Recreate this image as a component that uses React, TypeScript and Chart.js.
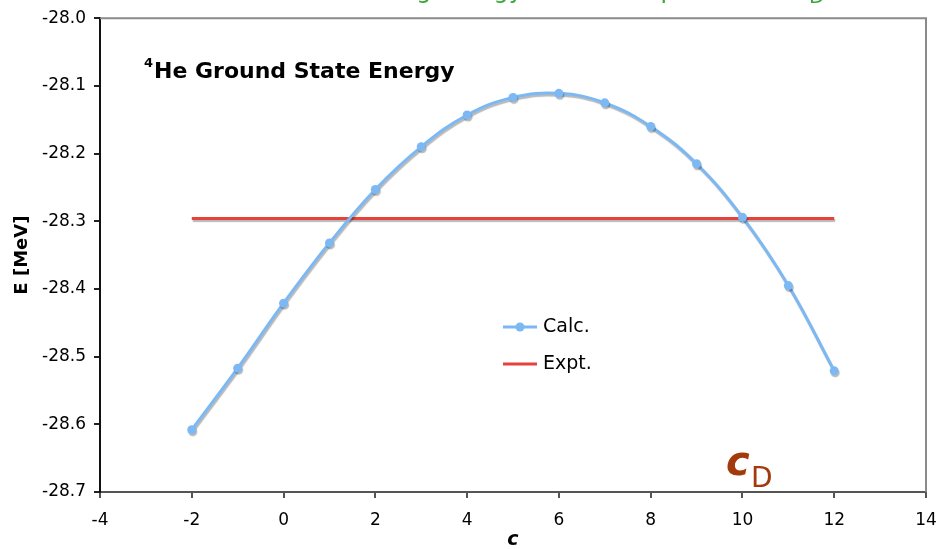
import React, { useEffect, useRef } from "react";
import { Chart, registerables } from "chart.js";

Chart.register(...registerables);

const cD = [-2, -1, 0, 1, 2, 3, 4, 5, 6, 7, 8, 9, 10, 11, 12];
const calcE = [-28.608, -28.517, -28.421, -28.332, -28.253, -28.19, -28.143, -28.117, -28.111, -28.125, -28.16, -28.215, -28.294, -28.395, -28.521];
const exptX = [-2, 12];
const exptE = [-28.296, -28.296];
const xTicks = { min: -4, max: 14, step: 2 };
const yTicks = { min: -28.7, max: -28.0, step: 0.1 };
const seriesNames = ["Calc.", "Expt."];

const FONT = "'DejaVu Sans', Verdana, sans-serif";
const CALC_COLOR = "#7cb9f4";
const EXPT_COLOR = "#e5423b";

const shadowPlugin = {
  id: "shadowPlugin",
  beforeDatasetDraw(chart: any) {
    const ctx = chart.ctx;
    ctx.save();
    ctx.shadowColor = "rgba(0,0,0,0.28)";
    ctx.shadowOffsetX = 1;
    ctx.shadowOffsetY = 2;
    ctx.shadowBlur = 1;
  },
  afterDatasetDraw(chart: any) {
    chart.ctx.restore();
  },
};

const decorPlugin = {
  id: "decorPlugin",
  afterDraw(chart: any) {
    const ctx = chart.ctx;
    const a = chart.chartArea;
    ctx.save();
    // top & right frame
    ctx.strokeStyle = "#8a8a8a";
    ctx.lineWidth = 2;
    ctx.beginPath();
    ctx.moveTo(a.left, a.top);
    ctx.lineTo(a.right, a.top);
    ctx.lineTo(a.right, a.bottom);
    ctx.stroke();

    // cut-off green title at top
    ctx.fillStyle = "#3aa83a";
    ctx.textBaseline = "alphabetic";
    ctx.textAlign = "left";
    ctx.font = `24px ${FONT}`;
    const main = "Binding Energy vs. the 3N parameter c";
    const w = ctx.measureText(main).width;
    const sx = 808 - w;
    ctx.fillText(main, sx, -2);
    ctx.font = `20px ${FONT}`;
    ctx.fillText("D", sx + w + 1, 3);

    // inner title
    ctx.fillStyle = "#000";
    ctx.font = `bold 13px ${FONT}`;
    ctx.fillText("4", 144, 67);
    ctx.font = `bold 22px ${FONT}`;
    ctx.fillText("He Ground State Energy", 154, 78);

    // legend
    ctx.lineWidth = 3;
    ctx.strokeStyle = CALC_COLOR;
    ctx.beginPath();
    ctx.moveTo(503, 327);
    ctx.lineTo(537, 327);
    ctx.stroke();
    ctx.fillStyle = CALC_COLOR;
    ctx.beginPath();
    ctx.arc(520, 327, 4.5, 0, Math.PI * 2);
    ctx.fill();
    ctx.strokeStyle = EXPT_COLOR;
    ctx.beginPath();
    ctx.moveTo(503, 364);
    ctx.lineTo(537, 364);
    ctx.stroke();
    ctx.fillStyle = "#000";
    ctx.font = `19px ${FONT}`;
    ctx.textBaseline = "middle";
    ctx.fillText(seriesNames[0], 543, 327);
    ctx.fillText(seriesNames[1], 543, 364);

    // c_D label
    ctx.fillStyle = "#a33a0c";
    ctx.textBaseline = "alphabetic";
    ctx.font = `italic bold 40px ${FONT}`;
    ctx.fillText("c", 726, 475);
    ctx.font = `28px ${FONT}`;
    ctx.fillText("D", 751, 487);
    ctx.restore();
  },
};

export default function App() {
  const ref = useRef<HTMLCanvasElement>(null);
  useEffect(() => {
    if (!ref.current) return;
    Chart.defaults.font.family = FONT;
    const chart = new Chart(ref.current, {
      type: "line",
      data: {
        datasets: [
          {
            label: seriesNames[0],
            data: cD.map((x, i) => ({ x, y: calcE[i] })),
            borderColor: CALC_COLOR,
            backgroundColor: CALC_COLOR,
            borderWidth: 3,
            pointRadius: 4.5,
            pointBorderWidth: 0,
            tension: 0.4,
            order: 0,
          },
          {
            label: seriesNames[1],
            data: exptX.map((x, i) => ({ x, y: exptE[i] })),
            borderColor: EXPT_COLOR,
            backgroundColor: EXPT_COLOR,
            borderWidth: 3,
            pointRadius: 0,
            order: 1,
          },
        ],
      },
      options: {
        responsive: false,
        animation: false,
        layout: { padding: { top: 15, right: 25, left: 0, bottom: 0 } },
        plugins: { legend: { display: false }, tooltip: { enabled: false } },
        scales: {
          x: {
            type: "linear",
            min: xTicks.min,
            max: xTicks.max,
            afterFit: (s: any) => {
              s.height = 57;
            },
            ticks: { stepSize: xTicks.step, color: "#000", font: { size: 17 }, padding: 12 },
            grid: { drawOnChartArea: false, tickLength: 6, color: "#555", lineWidth: 2 },
            border: { color: "#555", width: 2 },
            title: {
              display: true,
              text: "c",
              color: "#000",
              font: { size: 19, weight: "bold", style: "italic" },
              padding: { top: 0, bottom: -2 },
            },
          },
          y: {
            type: "linear",
            min: yTicks.min,
            max: yTicks.max,
            afterFit: (s: any) => {
              s.width = 100;
            },
            ticks: {
              stepSize: yTicks.step,
              color: "#000",
              font: { size: 17 },
              padding: 8,
              callback: (v: any) => Number(v).toFixed(1),
            },
            grid: { drawOnChartArea: false, tickLength: 6, color: "#222", lineWidth: 2 },
            border: { color: "#111", width: 2 },
            title: {
              display: true,
              text: "E [MeV]",
              color: "#000",
              font: { size: 18, weight: "bold" },
              padding: { top: 12, bottom: 0 },
            },
          },
        },
      },
      plugins: [shadowPlugin, decorPlugin],
    } as any);
    return () => chart.destroy();
  }, []);
  return (
    <div style={{ position: "absolute", left: 0, top: 0, width: 951, height: 549 }}>
      <canvas ref={ref} width={951} height={549} />
    </div>
  );
}
